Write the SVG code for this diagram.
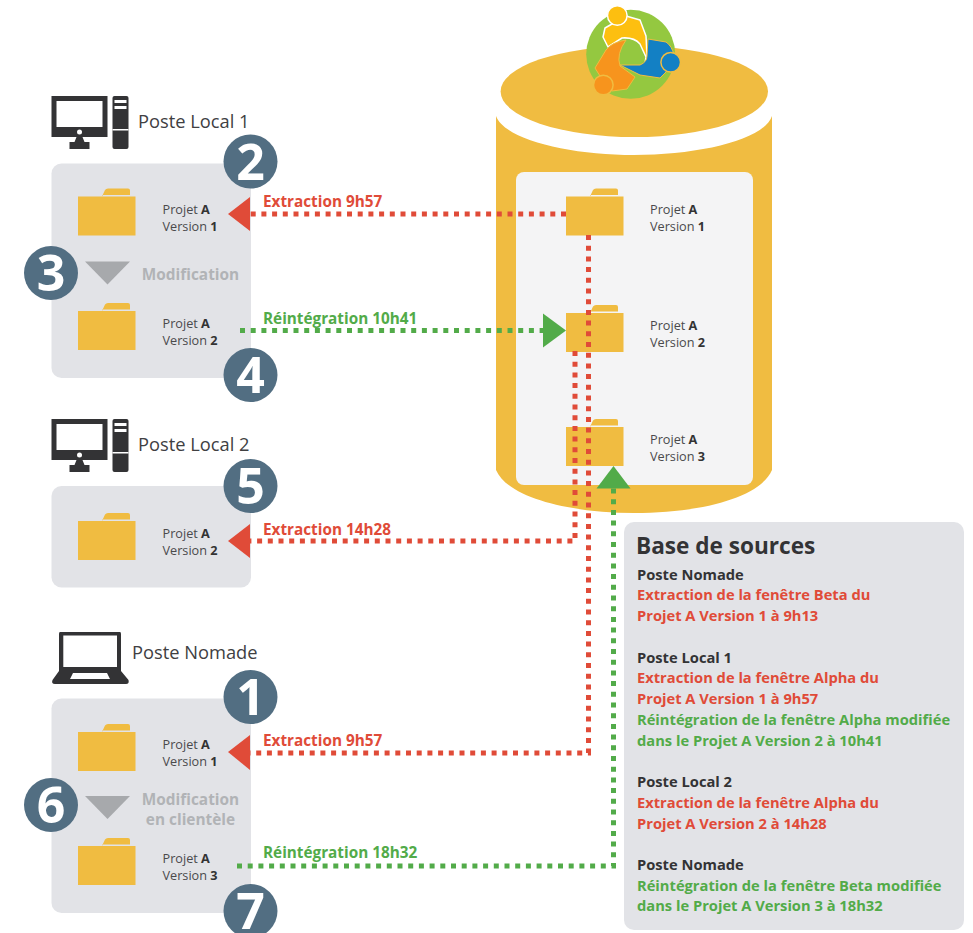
<svg xmlns="http://www.w3.org/2000/svg" width="973" height="933" viewBox="0 0 973 933">
<style>
text{font-family:"Open Sans","Noto Sans","Liberation Sans",sans-serif}
.panel{fill:#e2e3e7}
.folder{fill:#f0bc41}
.lbl{font-size:12.7px;fill:#4a4a4c}
.lbl tspan.b{font-weight:700;fill:#333}
.post{font-size:18.300px;fill:#404042}
.badge circle{fill:#526e82}
.badge text{font-size:50px;font-weight:700;fill:#fff;text-anchor:middle}
.mod{font-size:15.400px;font-weight:700;fill:#b1b3b6;text-anchor:middle}
.tri{fill:#a7a9ac}
.r{stroke:#e04b38;stroke-width:5;stroke-dasharray:5 5.7;fill:none}
.g{stroke:#52ab49;stroke-width:5;stroke-dasharray:5 5.7;fill:none}
.rt{font-size:14.700px;font-weight:700;fill:#e04b38}
.gt{font-size:14.700px;font-weight:700;fill:#52ab49}
.kt{font-size:14.700px;font-weight:700;fill:#333335}
.cl{font-size:15.300px}
.ic{fill:#333335}
</style>
<defs>
<g id="fold"><path class="folder" d="M0,9H57.500V48H0ZM24,9L27,2.500Q28,1 30,1H50Q52,1 52,3V7.500H24Z"/></g>
<g id="pc" class="ic"><path d="M0,0H56V41H0ZM5,5V31H51V5Z" fill-rule="evenodd"/><path d="M23,46L25,41H31L33,46H38V53H18V46Z"/><rect x="61" y="0" width="16" height="53" rx="2"/><rect x="63" y="4" width="12" height="3" fill="#fff"/><rect x="63" y="10" width="12" height="3" fill="#fff"/><rect x="61" y="33" width="16" height="1.500" fill="#fff"/><circle cx="28" cy="36" r="2.500" fill="#fff"/></g>
</defs>
<g id="database">
<path d="M496,116C505,140 570,155 634,155C700,155 764,140 772,116V470C760,498 700,513 634,513C570,513 508,498 496,470Z" fill="#f0bc41"/>
<ellipse cx="634.300" cy="91.500" rx="133.700" ry="45.500" fill="#f0bc41"/>
<rect x="516" y="172" width="237" height="313" rx="8" fill="#f4f4f5"/>
</g>
<g id="logo">
<circle cx="630.700" cy="54.300" r="44.500" fill="#94c840"/>
<path d="M605,28L603,37L608,47L622,38Q634,37 640,44L646,57L645,63L647,56L646,36L640,20L626,16Z" fill="#fdbf10" stroke="#fff" stroke-width="1.500" stroke-linejoin="round"/>
<circle cx="617.300" cy="15.500" r="9.800" fill="#fdbf10" stroke="#fff" stroke-width="1.500"/>
<path d="M648,39L666,42Q672,46 674,55L666,72L660,78L640,75L620,65L640,65Q647,62 647,56Z" fill="#1380c4" stroke="#f0bc41" stroke-width="1" stroke-linejoin="round"/>
<circle cx="670.700" cy="62.300" r="9.800" fill="#1380c4" stroke="#f0bc41" stroke-width="1.500"/>
<path d="M626,40Q612,42 606,50L595,68L600,76L612,91L627,89L635,77L620,66Q616,54 626,40Z" fill="#f7941d" stroke="#f0bc41" stroke-width="1" stroke-linejoin="round"/>
<circle cx="603.300" cy="85" r="9.800" fill="#f7941d" stroke="#f0bc41" stroke-width="1.500"/>
</g>
<g id="local1">
<use href="#pc" x="51.500" y="96"/>
<text class="post" x="138" y="128">Poste Local 1</text>
<rect class="panel" x="51.500" y="163.500" width="199.500" height="214.500" rx="10"/>
<use href="#fold" x="78" y="187.500"/>
<text class="lbl" x="162.500" y="214">Projet <tspan class="b">A</tspan></text>
<text class="lbl" x="162.500" y="231">Version <tspan class="b">1</tspan></text>
<path class="tri" d="M85,261.500H130L107.500,284.500Z"/>
<text class="mod" x="190.500" y="280">Modification</text>
<use href="#fold" x="78" y="302"/>
<text class="lbl" x="162.500" y="328">Projet <tspan class="b">A</tspan></text>
<text class="lbl" x="162.500" y="345">Version <tspan class="b">2</tspan></text>
</g>
<g id="local2">
<use href="#pc" x="51.500" y="419"/>
<text class="post" x="138" y="451">Poste Local 2</text>
<rect class="panel" x="51.500" y="486" width="199.500" height="101.500" rx="10"/>
<use href="#fold" x="78" y="512"/>
<text class="lbl" x="162.500" y="538">Projet <tspan class="b">A</tspan></text>
<text class="lbl" x="162.500" y="555">Version <tspan class="b">2</tspan></text>
</g>
<g id="nomade">
<path class="ic" d="M60,632H120Q121,632 121,634V671L128.500,680Q129.500,684 126,684H55Q51,684 52.500,680L59,671V634Q59,632 60,632ZM63.300,635.500V667H117V635.500ZM73,673L70,679H110L107,673Z" fill-rule="evenodd"/>
<text class="post" x="132" y="659">Poste Nomade</text>
<rect class="panel" x="51.500" y="698.500" width="199.500" height="214.500" rx="10"/>
<use href="#fold" x="78" y="723"/>
<text class="lbl" x="162.500" y="749">Projet <tspan class="b">A</tspan></text>
<text class="lbl" x="162.500" y="766">Version <tspan class="b">1</tspan></text>
<path class="tri" d="M85,796H130L107.500,819Z"/>
<text class="mod" x="190.500" y="805">Modification</text>
<text class="mod" x="190.500" y="825">en clientèle</text>
<use href="#fold" x="78" y="837"/>
<text class="lbl" x="162.500" y="863">Projet <tspan class="b">A</tspan></text>
<text class="lbl" x="162.500" y="880">Version <tspan class="b">3</tspan></text>
</g>
<g id="base-folders">
<use href="#fold" x="566" y="187.500"/>
<text class="lbl" x="650" y="214">Projet <tspan class="b">A</tspan></text>
<text class="lbl" x="650" y="231">Version <tspan class="b">1</tspan></text>
<use href="#fold" x="566" y="304"/>
<text class="lbl" x="650" y="330">Projet <tspan class="b">A</tspan></text>
<text class="lbl" x="650" y="347">Version <tspan class="b">2</tspan></text>
<use href="#fold" x="566" y="418"/>
<text class="lbl" x="650" y="444">Projet <tspan class="b">A</tspan></text>
<text class="lbl" x="650" y="461">Version <tspan class="b">3</tspan></text>
</g>
<g id="connectors">
<path class="r" d="M566,214H246"/>
<path class="r" d="M588.500,235V753H246"/>
<path class="r" d="M575,351V541H248"/>
<path class="g" d="M240,330.500H546"/>
<path class="g" d="M237,866H613.500V486"/>
<path d="M228,214L250,197V231Z" fill="#e04b38"/>
<path d="M228,541L250,524V558Z" fill="#e04b38"/>
<path d="M228,752L250,735V770Z" fill="#e04b38"/>
<path d="M566,330.500L543,313.500V347.500Z" fill="#52ab49"/>
<path d="M613.500,466L596.500,488.500H630.500Z" fill="#52ab49"/>
<text class="rt cl" x="263" y="206.500">Extraction 9h57</text>
<text class="gt cl" x="263" y="323.500">Réintégration 10h41</text>
<text class="rt cl" x="263" y="534.500">Extraction 14h28</text>
<text class="rt cl" x="263" y="745.500">Extraction 9h57</text>
<text class="gt cl" x="263" y="857.500">Réintégration 18h32</text>
</g>
<g id="badge-2" class="badge"><circle cx="250.500" cy="161.500" r="27"/><text x="250.500" y="179.500">2</text></g>
<g id="badge-3" class="badge"><circle cx="51" cy="273" r="27"/><text x="51" y="291">3</text></g>
<g id="badge-4" class="badge"><circle cx="250.500" cy="375" r="27"/><text x="250.500" y="393">4</text></g>
<g id="badge-5" class="badge"><circle cx="250.500" cy="486" r="27"/><text x="250.500" y="504">5</text></g>
<g id="badge-1" class="badge"><circle cx="250.500" cy="697" r="27"/><text x="250.500" y="715">1</text></g>
<g id="badge-6" class="badge"><circle cx="51" cy="805" r="27"/><text x="51" y="823">6</text></g>
<g id="badge-7" class="badge"><circle cx="250.500" cy="911" r="27"/><text x="250.500" y="929">7</text></g>
<g id="legend">
<rect class="panel" x="624" y="522" width="340" height="408" rx="10"/>
<text x="636" y="554" font-size="22.600" font-weight="700" fill="#333335">Base de sources</text>
<text class="kt" x="637" y="580">Poste Nomade</text>
<text class="rt" x="637" y="600">Extraction de la fenêtre Beta du</text>
<text class="rt" x="637" y="621">Projet A Version 1 à 9h13</text>
<text class="kt" x="637" y="663">Poste Local 1</text>
<text class="rt" x="637" y="683">Extraction de la fenêtre Alpha du</text>
<text class="rt" x="637" y="704">Projet A Version 1 à 9h57</text>
<text class="gt" x="637" y="725">Réintégration de la fenêtre Alpha modifiée</text>
<text class="gt" x="637" y="746">dans le Projet A Version 2 à 10h41</text>
<text class="kt" x="637" y="787">Poste Local 2</text>
<text class="rt" x="637" y="808">Extraction de la fenêtre Alpha du</text>
<text class="rt" x="637" y="829">Projet A Version 2 à 14h28</text>
<text class="kt" x="637" y="870">Poste Nomade</text>
<text class="gt" x="637" y="891">Réintégration de la fenêtre Beta modifiée</text>
<text class="gt" x="637" y="911">dans le Projet A Version 3 à 18h32</text>
</g>
</svg>
